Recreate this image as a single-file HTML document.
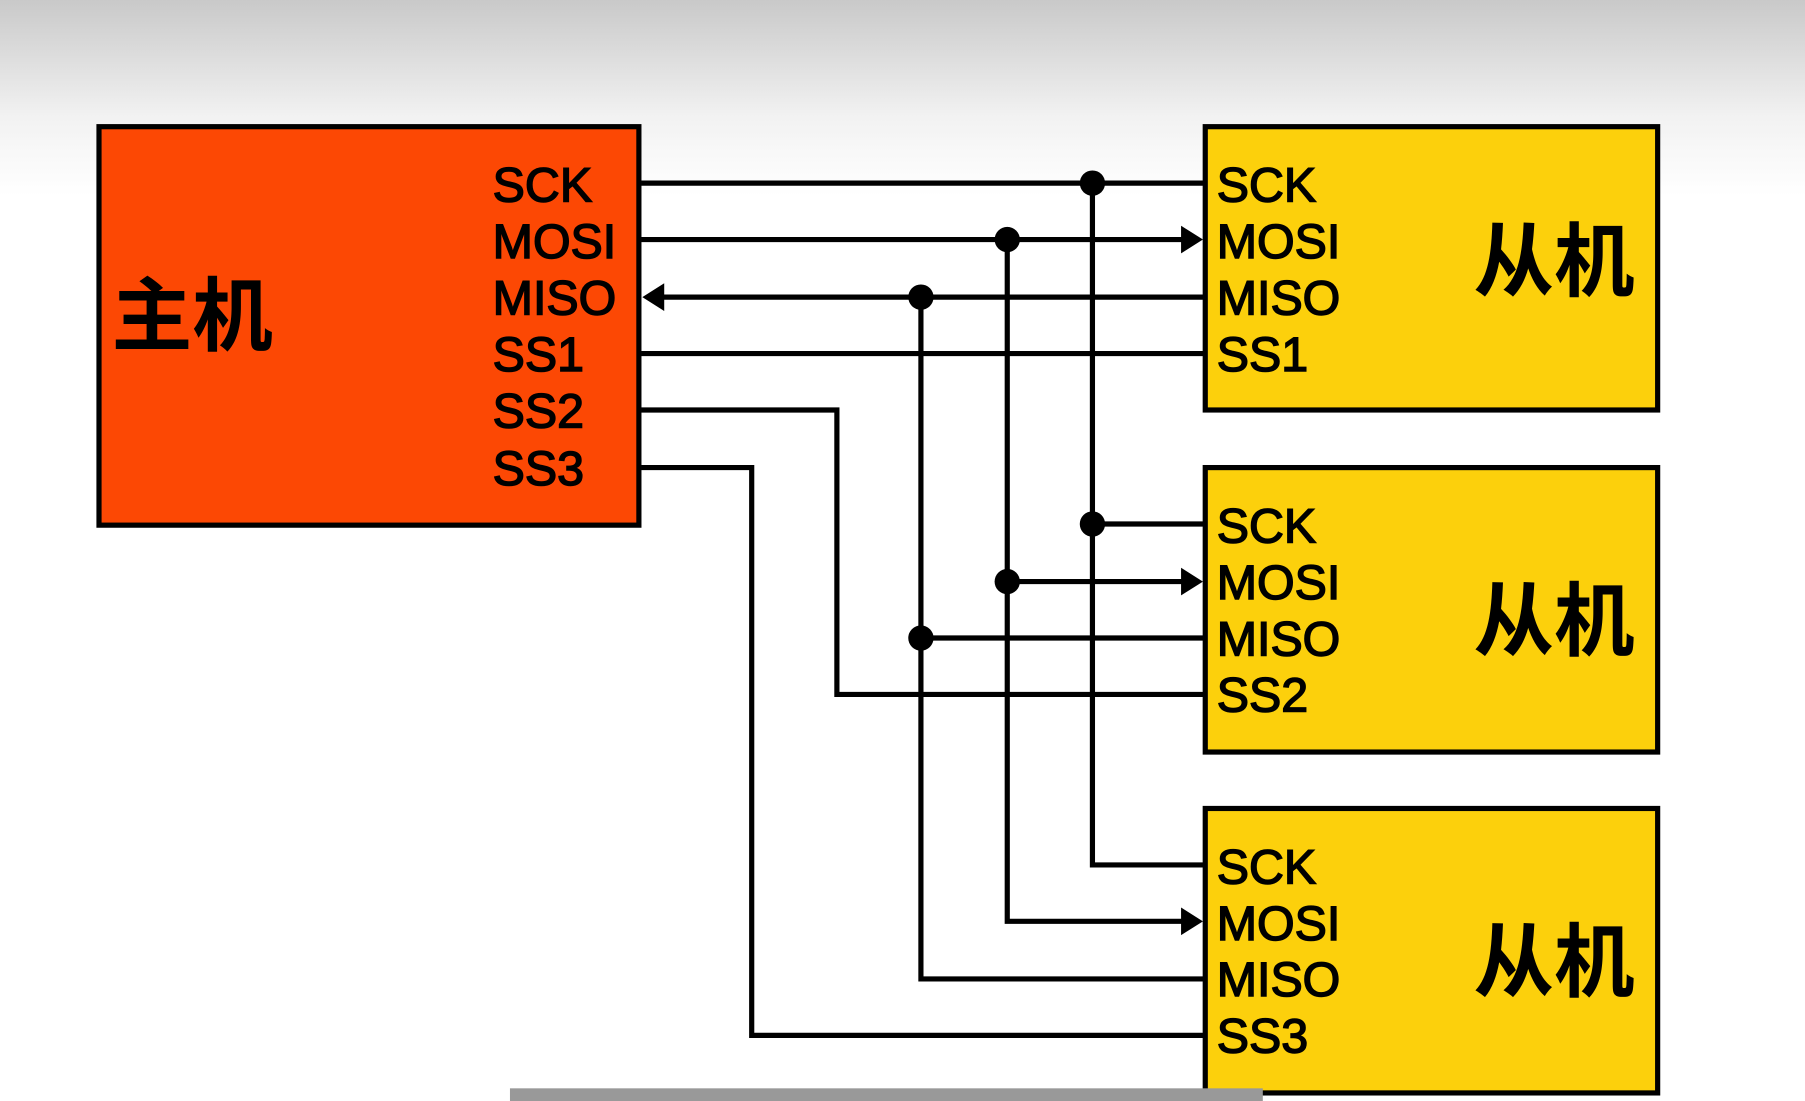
<!DOCTYPE html>
<html><head><meta charset="utf-8"><style>
html,body{margin:0;padding:0;width:1805px;height:1101px;overflow:hidden;background:#fff}
svg{display:block}
.t{font-family:"Liberation Sans","Noto Sans CJK SC",sans-serif;font-size:42px;fill:#000;stroke:#000;stroke-width:1.3}
.c{font-family:"Noto Sans CJK SC","WenQuanYi Zen Hei",sans-serif;font-size:70px;font-weight:bold;fill:#000}
</style></head><body>
<svg width="1805" height="1101" viewBox="0 0 1568 956" preserveAspectRatio="none">
<defs>
<linearGradient id="bg" x1="0" y1="0" x2="0" y2="1">
<stop offset="0" stop-color="#c9c9c9"/><stop offset="0.6" stop-color="#f2f2f2"/><stop offset="1" stop-color="#fff"/>
</linearGradient>
</defs>
<rect x="0" y="0" width="1568" height="170" fill="url(#bg)"/>
<g stroke="#000" stroke-width="4.5" fill="none">
<rect x="86" y="110" width="469" height="346" fill="#fc4804"/>
<rect x="1047" y="110" width="393" height="246" fill="#fcd00c"/>
<rect x="1047" y="406" width="393" height="247" fill="#fcd00c"/>
<rect x="1047" y="702" width="393" height="247" fill="#fcd00c"/>
<line x1="557" y1="159" x2="1047" y2="159"/>
<line x1="557" y1="208" x2="1030" y2="208"/>
<line x1="572" y1="258" x2="1047" y2="258"/>
<line x1="557" y1="307" x2="1047" y2="307"/>
<polyline points="557,356 727,356 727,603 1047,603"/>
<polyline points="557,406 653,406 653,899 1047,899"/>
<polyline points="949,159 949,751 1047,751"/>
<polyline points="875,208 875,800 1030,800"/>
<polyline points="800,258 800,850 1047,850"/>
<line x1="949" y1="455" x2="1047" y2="455"/>
<line x1="875" y1="505" x2="1030" y2="505"/>
<line x1="800" y1="554" x2="1047" y2="554"/>
</g>
<g fill="#000">
<circle cx="949" cy="159" r="11"/><circle cx="875" cy="208" r="11"/><circle cx="800" cy="258" r="11"/>
<circle cx="949" cy="455" r="11"/><circle cx="875" cy="505" r="11"/><circle cx="800" cy="554" r="11"/>
<polygon points="1045,208 1026,196 1026,220"/>
<polygon points="1045,505 1026,493 1026,517"/>
<polygon points="1045,800 1026,788 1026,812"/>
<polygon points="558,258 577,246 577,270"/>
</g>
<text class="t" x="428" y="175">SCK</text>
<text class="t" x="428" y="224">MOSI</text>
<text class="t" x="428" y="273">MISO</text>
<text class="t" x="428" y="322">SS1</text>
<text class="t" x="428" y="371">SS2</text>
<text class="t" x="428" y="421">SS3</text>
<text class="c" x="97" y="299">主机</text>
<g>
<text class="t" x="1057" y="175">SCK</text><text class="t" x="1057" y="224">MOSI</text><text class="t" x="1057" y="273">MISO</text><text class="t" x="1057" y="322">SS1</text>
<text class="t" x="1057" y="471">SCK</text><text class="t" x="1057" y="520">MOSI</text><text class="t" x="1057" y="569">MISO</text><text class="t" x="1057" y="618">SS2</text>
<text class="t" x="1057" y="767">SCK</text><text class="t" x="1057" y="816">MOSI</text><text class="t" x="1057" y="865">MISO</text><text class="t" x="1057" y="914">SS3</text>
<text class="c" x="1280" y="252">从机</text>
<text class="c" x="1280" y="564">从机</text>
<text class="c" x="1280" y="860">从机</text>
</g>
<rect x="443" y="945" width="654" height="11" fill="#999"/>
</svg>
</body></html>
